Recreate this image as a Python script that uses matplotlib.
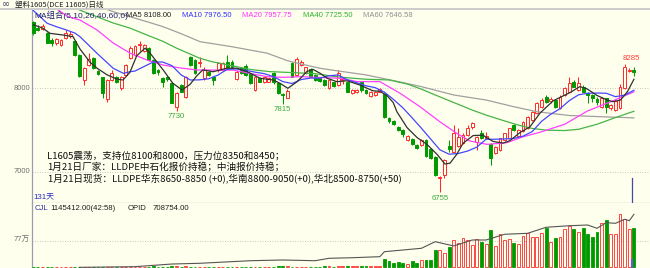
import matplotlib
matplotlib.use("Agg")
import matplotlib.pyplot as plt
from matplotlib.lines import Line2D
from matplotlib.transforms import blended_transform_factory as blend
import numpy as np

# ---------------- data ----------------
opens = [8790, 8720, 8710, 8665, 8580, 8545, 8520, 8600, 8620, 8560,
         8400, 8100, 8280, 8360, 8210, 8130, 7870, 8100, 8140, 8000,
         8160, 8360, 8400, 8520, 8440, 8480, 8340, 8220, 8120, 8140,
         8060, 7780, 8040, 7900, 8380, 8340, 8300, 8120, 8200, 8140,
         8220, 8220, 8320, 8320, 8110, 8240, 8270, 8170, 7980, 8120,
         8070, 8080, 8180, 8060, 7930, 7890, 8300, 8160, 8280, 8180,
         8230, 8160, 8120, 8100, 8000, 8070, 8040, 8100, 8070, 7940,
         7950, 8070, 7980, 7910, 7920, 7960, 7930, 7640, 7610, 7540,
         7500, 7380, 7390, 7320, 7320, 7380, 7280, 7180, 6925, 6965,
         7310, 7240, 7310, 7345, 7445, 7540, 7360, 7470, 7400, 7340,
         7225, 7265, 7385, 7405, 7560, 7425, 7485, 7525, 7620, 7700,
         7780, 7900, 7845, 7860, 7760, 7920, 7960, 8080, 7980, 8020,
         7940, 7920, 7870, 7780, 7880, 7760, 7740, 7760, 8000, 8210,
         8220]
highs = [8810, 8760, 8770, 8670, 8600, 8600, 8590, 8700, 8680, 8570,
         8410, 8250, 8420, 8370, 8220, 8140, 8110, 8220, 8150, 8150,
         8290, 8500, 8520, 8560, 8530, 8490, 8350, 8230, 8130, 8150,
         8070, 7950, 8050, 8150, 8390, 8350, 8370, 8250, 8210, 8150,
         8320, 8320, 8400, 8340, 8220, 8260, 8290, 8180, 8150, 8130,
         8150, 8140, 8190, 8070, 7940, 7990, 8310, 8380, 8340, 8260,
         8240, 8170, 8130, 8110, 8110, 8080, 8220, 8130, 8080, 7990,
         7990, 8080, 7990, 7970, 7970, 8000, 7940, 7660, 7620, 7550,
         7510, 7440, 7400, 7330, 7390, 7390, 7290, 7190, 6950, 7150,
         7380, 7560, 7520, 7470, 7560, 7600, 7430, 7500, 7480, 7350,
         7310, 7410, 7470, 7530, 7570, 7510, 7610, 7670, 7730, 7840,
         7880, 7920, 7895, 7870, 7920, 8010, 8140, 8100, 8140, 8040,
         7960, 7930, 7900, 7900, 7890, 7810, 7870, 8050, 8285, 8240,
         8250]
lows = [8640, 8690, 8700, 8540, 8500, 8520, 8500, 8590, 8600, 8390,
        8140, 8040, 8270, 8230, 8160, 7880, 7840, 8090, 8060, 7980,
        8150, 8350, 8390, 8440, 8430, 8330, 8170, 8160, 8020, 8090,
        7820, 7730, 7950, 7890, 8270, 8170, 8250, 8100, 8150, 8040,
        8200, 8210, 8250, 8240, 8100, 8170, 8150, 8050, 7970, 8070,
        8060, 8070, 8050, 7930, 7815, 7880, 8130, 8150, 8270, 8170,
        8130, 8090, 8080, 8030, 7990, 8020, 8030, 8050, 7950, 7930,
        7940, 7960, 7930, 7900, 7910, 7950, 7650, 7580, 7560, 7490,
        7420, 7370, 7320, 7270, 7310, 7180, 7150, 6950, 6755, 6925,
        7240, 7230, 7300, 7335, 7435, 7510, 7260, 7395, 7390, 7085,
        7210, 7255, 7375, 7395, 7490, 7415, 7475, 7515, 7610, 7690,
        7770, 7830, 7820, 7770, 7750, 7910, 7950, 8010, 7970, 7950,
        7820, 7840, 7800, 7770, 7700, 7740, 7730, 7750, 7990, 8200,
        8150]
closes = [8660, 8700, 8740, 8545, 8540, 8585, 8575, 8660, 8650, 8400,
          8150, 8240, 8345, 8240, 8170, 7940, 8100, 8180, 8080, 8140,
          8280, 8480, 8505, 8520, 8520, 8340, 8180, 8190, 8080, 8110,
          7830, 7940, 7960, 8140, 8280, 8180, 8320, 8220, 8160, 8100,
          8300, 8300, 8260, 8250, 8200, 8180, 8160, 8060, 8140, 8080,
          8130, 8120, 8070, 7940, 7920, 7970, 8140, 8350, 8320, 8250,
          8140, 8100, 8090, 8040, 8100, 8030, 8180, 8110, 7960, 7980,
          7980, 7980, 7940, 7960, 7960, 7990, 7660, 7610, 7570, 7500,
          7450, 7430, 7330, 7290, 7380, 7190, 7165, 6965, 6945, 7140,
          7270, 7460, 7420, 7440, 7520, 7590, 7420, 7410, 7430, 7165,
          7300, 7400, 7460, 7520, 7500, 7500, 7600, 7660, 7720, 7830,
          7860, 7840, 7870, 7780, 7900, 8000, 8060, 8020, 8060, 7960,
          7920, 7890, 7840, 7880, 7780, 7800, 7850, 8010, 8260, 8220,
          8200]
# volume in 万 (10k lots)
volumes = [0.2, 0.3, 0.2, 0.4, 0.3, 0.2, 0.3, 0.4, 0.3, 0.5,
           0.6, 0.4, 0.3, 0.4, 0.3, 0.6, 0.5, 0.4, 0.3, 0.4,
           0.5, 2.5, 2.0, 1.5, 1.8, 2.2, 2.6, 1.6, 1.9, 2.0,
           2.8, 3.0, 2.4, 2.6, 2.2, 1.8, 1.6, 2.0, 1.7, 1.5,
           2.1, 2.3, 1.9, 1.8, 2.0, 1.7, 1.9, 2.4, 2.0, 2.2,
           1.8, 1.9, 2.5, 2.8, 3.0, 2.6, 2.4, 2.2, 2.0, 1.8,
           2.1, 1.9, 2.0, 2.6, 3.0, 2.4, 3.2, 2.8, 3.0, 2.6,
           2.9, 3.3, 3.0, 2.8, 3.1, 3.4, 23.3, 18.5, 13.6, 16.5,
           11.7, 9.8, 19.4, 13.6, 21.3, 21.3, 21.3, 50.2, 50.2, 40.5,
           59.8, 79.0, 69.4, 84.0, 79.0, 64.6, 81.0, 72.4, 66.6, 107.9,
           62.7, 95.4, 79.0, 82.0, 71.3, 66.6, 91.6, 98.4, 88.7, 86.7,
           98.4, 114.6, 74.2, 84.0, 88.7, 109.8, 120.4, 110.8, 103.0, 114.6,
           95.4, 86.7, 103.0, 127.1, 136.7, 95.4, 95.4, 153.1, 138.7, 109.8,
           114.5412]

ma5_x = [0, 2.1, 3.6, 6.4, 8.6, 10.1, 12.3, 13.8, 16, 18.1, 19.4, 20.9, 22.4,
         24.2, 25.3, 28.1, 30.2, 32.2, 33.9, 35.4, 36.7, 38.9, 41.9,
         44.1, 46.3, 49.1, 51.9, 53.4, 55.1, 57.1, 59.2, 60.5, 62.1, 63.6, 65.7,
         67.9, 70.7, 73.5, 75, 76.6, 77.9, 78.7, 80.9, 83.1, 85.2, 87.4, 89.1,
         90.2, 91.7, 93, 95.2, 97.3, 99.5, 101.7, 103.2, 105.3, 107.5, 109.7,
         112.5, 116.2, 118.3, 119.8, 122, 124.2, 125.5, 127.1, 128.6, 130]
ma5_y = [8760, 8717, 8657, 8637, 8617, 8470, 8310, 8240, 8160, 8110, 8099, 8190,
         8390, 8480, 8418, 8220, 8060, 7980, 8045, 8150, 8220,
         8198, 8240, 8240, 8198, 8120, 8099, 8060, 8000, 8079, 8200, 8227, 8179,
         8120, 8079, 8090, 8039, 7970, 7965, 7910, 7830, 7720, 7530, 7410, 7330,
         7210, 7095, 7105, 7215, 7343, 7435, 7440, 7365, 7345, 7375, 7470, 7540,
         7705, 7850, 7950, 8020, 7995, 7915, 7860, 7840, 7860, 7960, 8108]
ma10_x = [0, 1, 3, 5, 7, 9, 10.1, 13.8, 17.3, 19.5, 21] + list(range(22, 131, 2))
ma10_y = [8930, 8880, 8777, 8736, 8700, 8660, 8617, 8418, 8239, 8179, 8199,
          8206, 8261, 8315, 8314, 8271, 8160, 8099, 8101, 8114, 8159, 8228, 8231,
          8215, 8193, 8175, 8139, 8080, 8057, 8105, 8122, 8121, 8150, 8159, 8100,
          8067, 8030, 8008, 7954, 7865, 7766, 7647, 7523, 7394, 7265, 7212, 7221,
          7250, 7297, 7391, 7391, 7395, 7401, 7428, 7483, 7605, 7690, 7756, 7852,
          7922, 7941, 7943, 7941, 7900, 7919, 7976.5]
ma20_x = [4, 7.5, 10.1, 13.8, 17.3, 20.9, 24.6, 28.1, 31.8, 35.4, 37.6, 43.2,
          50.6, 54, 57.7, 61.4, 66.4, 70.1, 75, 79.4, 83.7, 88, 91.7, 94.5, 98.2,
          102.5, 106, 110, 115, 120, 125, 130]
ma20_y = [8990, 8856, 8816, 8697, 8541, 8422, 8338, 8278, 8243, 8219, 8218,
          8218, 8139, 8131, 8139, 8131, 8120, 8080, 8080, 7940, 7780, 7600, 7460,
          7370, 7330, 7350, 7420, 7480, 7570, 7730, 7840, 7957.75]
ma40_x = [10, 17.3, 20.9, 24.6, 28.1, 31, 33.5, 36, 38.5, 43, 47, 51, 55, 61, 66,
          72, 77, 81, 84, 87, 91, 95, 98, 102, 105, 108, 111, 115, 118, 122, 126,
          130]
ma40_y = [8936, 8780, 8720, 8637, 8560, 8480, 8420, 8360, 8320, 8270, 8225, 8200,
          8190, 8175, 8135, 8108, 8100, 8050, 7990, 7920, 7830, 7740, 7680, 7610,
          7560, 7520, 7500, 7495, 7510, 7570, 7650, 7725.5]
ma60_x = [15, 17.3, 20.9, 24.6, 28.1, 31.8, 36.1, 43, 50.6, 55, 58, 62, 65, 72,
          79, 84, 91, 98, 104, 109, 116, 123, 130]
ma60_y = [8960, 8916, 8856, 8796, 8736, 8657, 8557, 8497, 8420, 8330, 8290,
          8240, 8215, 8160, 8080, 8020, 7920, 7860, 7780, 7720, 7675, 7660,
          7646.58]
# open interest (万)
opid_x = [10, 22, 30, 36, 47, 54, 61, 64, 69, 75, 76, 84, 87, 91, 95, 98, 102,
          107, 111, 116, 120, 122, 124, 126, 128, 129, 130]
opid_y = [5.1, 5.9, 9.2, 10.1, 13.3, 14.2, 13.3, 16.3, 17.0, 18.3, 24.5, 28.7,
          36.9, 31.6, 39.0, 39.0, 46.1, 47.3, 54.8, 56.7, 57.6, 53.5, 60.5, 59.7,
          64.7, 62.9, 70.8754]

price_ticks = [8000, 7000]
vol_ticks = [77]
ma_names = ["MA5", "MA10", "MA20", "MA40", "MA60"]
ma_last = [8108.00, 7976.50, 7957.75, 7725.50, 7646.58]
low_mark_idx = [31, 54, 88]
high_mark_idx = [128]
title = "塑料1605(DCE 11605)日线"
ma_title = "MA组合(5,10,20,40,60,0)"
note_lines = [
    "L1605震荡，支持位8100和8000，压力位8350和8450；",
    "1月21日厂家：LLDPE中石化报价持稳；中油报价持稳；",
    "1月21日现货：LLDPE华东8650-8850 (+0),华南8800-9050(+0),华北8500-8750(+50)",
]
cjl_value = 1145412.00
cjl_time = "42:58"
opid_value = 708754.00
cursor_idx = 129.5

# ---------------- styling / layout ----------------
W, H = 650, 268
BG = "#FFFFEE"
RED = "#FF2A2A"
GREEN = "#009A00"
LAT = ["Liberation Sans", "Noto Sans CJK SC"]
CJK = ["Noto Sans CJK SC", "DejaVu Sans"]
plt.rcParams["font.family"] = LAT

fig = plt.figure(figsize=(W / 100, H / 100), dpi=100, facecolor=BG)


def rect(x0, y0, x1, y1):
    return [x0 / W, 1 - y1 / H, (x1 - x0) / W, (y1 - y0) / H]


def ftext(x, y, s, **kw):
    kw.setdefault("ha", "left")
    kw.setdefault("va", "center")
    fig.text(x / W, 1 - y / H, s, **kw)


ax = fig.add_axes(rect(32, 10, 650, 203), facecolor=BG)
axv = fig.add_axes(rect(32, 203, 650, 268), facecolor=BG)
axo = axv.twinx()

XL = (-0.28, 133.48)
for a in (ax, axv, axo):
    a.set_xlim(*XL)
    a.set_xticks([])
    a.set_yticks([])
    for s in a.spines.values():
        s.set_visible(False)
ax.set_ylim(6629.1, 8935.8)
axv.set_ylim(-1.73, 185.8)
axo.set_ylim(4.26, 84.9)
axo.patch.set_visible(False)

ax.spines["left"].set_visible(True)
ax.spines["left"].set_color("#9A9AB4")
ax.spines["left"].set_linewidth(0.9)
ax.spines["bottom"].set_visible(True)
ax.spines["bottom"].set_color("#A8A8B8")
ax.spines["bottom"].set_linewidth(0.9)
axv.spines["left"].set_visible(True)
axv.spines["left"].set_color("#9A9AB4")
axv.spines["left"].set_linewidth(0.9)

# title separator
fig.add_artist(Line2D([0, 1], [1 - 9.3 / H] * 2, transform=fig.transFigure,
                      color="#C8C8C8", lw=1.3))

# grid lines
for p in price_ticks:
    ax.axhline(p, color="#B4B4B4", lw=0.6, ls=(0, (1, 2)), zorder=1)
for v in vol_ticks:
    axv.axhline(v, color="#B4B4B4", lw=0.6, ls=(0, (1, 2)), zorder=1)

# candles
idx = np.arange(len(closes))
o, h, l, c = (np.array(v, dtype=float) for v in (opens, highs, lows, closes))
up = c >= o
edge = [RED if u else GREEN for u in up]
face = [BG if u else GREEN for u in up]
top = np.maximum(o, c)
bot = np.minimum(o, c)
ax.vlines(idx, top, h, colors=edge, lw=0.75, zorder=2)
ax.vlines(idx, l, bot, colors=edge, lw=0.75, zorder=2)
ax.bar(idx, np.maximum(top - bot, 5), bottom=bot, width=0.62, color=face,
       edgecolor=edge, linewidth=0.7, zorder=3)

# moving averages
ax.plot(ma60_x, ma60_y, color="#A0A0A0", lw=0.9, zorder=4)
ax.plot(ma40_x, ma40_y, color="#46B446", lw=0.9, zorder=4)
ax.plot(ma20_x, ma20_y, color="#FF40FF", lw=0.9, zorder=4)
ax.plot(ma10_x, ma10_y, color="#4646FF", lw=0.9, zorder=5)
ax.plot(ma5_x, ma5_y, color="#303030", lw=0.9, zorder=6)

# high / low marks
for i in low_mark_idx:
    ax.annotate(f"{lows[i]}", (i, lows[i]), xytext=(0, -4.3),
                textcoords="offset points", ha="center", va="center",
                fontsize=5.6, color="#3CAA3C", zorder=7)
for i in high_mark_idx:
    ax.annotate(f"{highs[i]}", (i, highs[i]), xytext=(-1.3, 4.0),
                textcoords="offset points", ha="left", va="center",
                fontsize=5.6, color="#FF3A3A", zorder=7)

# price labels on the left
bt = blend(ax.transAxes, ax.transData)
for p in price_ticks:
    ax.text(-0.0035, p, f"{p}", transform=bt, ha="right", va="center",
            fontsize=5.5, color="#707070")
bv = blend(axv.transAxes, axv.transData)
for v in vol_ticks:
    axv.text(-0.0035, v, f"{v}万", transform=bv, ha="right", va="center",
             fontsize=5.5, color="#707070", family=LAT)

# cursor line
ax.axvline(cursor_idx, ymin=0, ymax=25 / 193, color="#4848A8", lw=0.9, zorder=8)
axv.axvline(cursor_idx, ymin=0, ymax=8 / 65, color="#6A5AC8", lw=1.6, zorder=8)

# volume bars
vface = [BG if u else GREEN for u in up]
axv.bar(idx, volumes, width=0.62, color=vface, edgecolor=edge, linewidth=0.6,
        zorder=3)
axo.plot(opid_x, opid_y, color="#555555", lw=0.8, zorder=4)

# header texts
ftext(1.5, 4.3, "∞", fontsize=7, color="#404060", family="DejaVu Sans")
ftext(15, 4.6, title, fontsize=5.4, color="#202020", family=CJK)
ftext(34, 15.2, ma_title, fontsize=6.0, color="#202070", family=LAT)
ma_cols = ["#202020", "#3030FF", "#FF30FF", "#30B030", "#909090"]
ma_px = [126, 181.7, 242.3, 302.7, 362.7]
for name, val, col, px in zip(ma_names, ma_last, ma_cols, ma_px):
    ftext(px, 15.2, f"{name} {val:.2f}", fontsize=5.5, color=col, family=LAT)

for k, line in enumerate(note_lines):
    ftext(47.5, 155.8 + 11.0 * k, line, fontsize=6.9, color="#101010", family=CJK)

ftext(33, 196.7, f"{len(closes)}天", fontsize=5.7, color="#2828C0", family=LAT)

ftext(35, 209, "CJL", fontsize=5.6, color="#3030A0", family=LAT)
ftext(50.7, 209, f"{cjl_value:.2f}({cjl_time})", fontsize=5.6, color="#202020",
      family=LAT)
ftext(128, 209, "OPID", fontsize=5.6, color="#202020", family=LAT)
ftext(152.7, 209, f"{opid_value:.2f}", fontsize=5.6, color="#202020", family=LAT)

fig.savefig("out.png", dpi=100, facecolor=BG)
